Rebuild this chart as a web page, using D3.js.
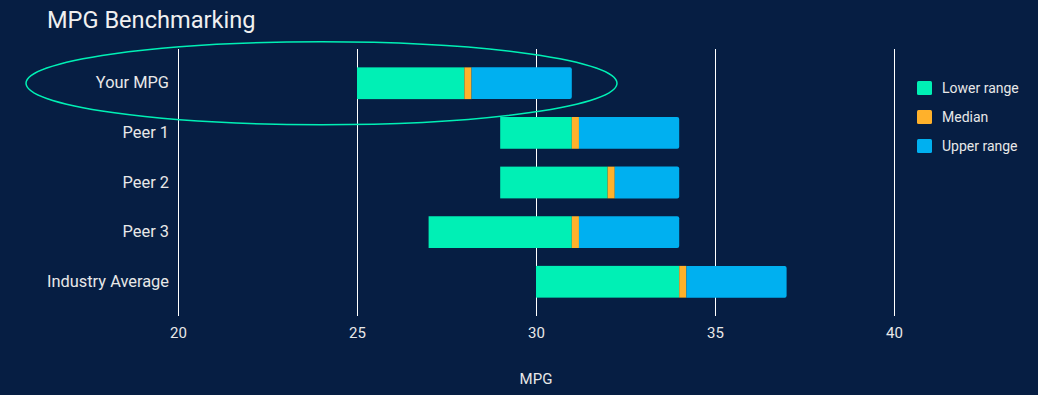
<!DOCTYPE html>
<html><head><meta charset="utf-8">
<script src="https://cdn.jsdelivr.net/npm/d3@7"></script>
<style>
html,body{margin:0;padding:0;background:#061e43;}
svg{display:block;font-family:Roboto,"Noto Sans",sans-serif;}
</style></head>
<body><svg id="c" width="1038" height="395"></svg>
<script>
const categories = ["Your MPG","Peer 1","Peer 2","Peer 3","Industry Average"];
const minValues = [25, 29, 29, 27, 30];
const medianValues = [28, 31, 32, 31, 34];
const maxValues = [31, 34, 34, 34, 37];
const medianWidth = 0.2;
const tickValues = [20, 25, 30, 35, 40];
const seriesNames = ["Lower range","Median","Upper range"];
const colors = ["#00f0b5","#ffb12b","#00b0f0"];

const svg = d3.select("#c");
const W = 1038, H = 395;
svg.append("rect").attr("width",W).attr("height",H).attr("fill","#061e43");

const x = d3.scaleLinear().domain([20,40]).range([178,894]);
const y = d3.scaleBand().domain(categories).range([49,316]).paddingInner(0.36).paddingOuter(0.37);

// gridlines
svg.append("g").selectAll("line").data(tickValues).join("line")
  .attr("x1",d=>Math.round(x(d))+0.5).attr("x2",d=>Math.round(x(d))+0.5).attr("y1",49).attr("y2",316)
  .attr("stroke","#ffffff").attr("stroke-width",1);

// x axis
const xa = svg.append("g").attr("transform","translate(0,316)")
  .call(d3.axisBottom(x).tickValues(tickValues).tickSize(0).tickPadding(11));
xa.select(".domain").remove();
xa.selectAll("text").attr("fill","#e8e8e8").attr("font-size",15).attr("font-family","Roboto,sans-serif");

// y axis labels
const ya = svg.append("g").attr("transform","translate(178,0)")
  .call(d3.axisLeft(y).tickSize(0).tickPadding(9));
ya.select(".domain").remove();
ya.selectAll("text").attr("fill","#e8e8e8").attr("font-size",16.4).attr("font-family","Roboto,sans-serif");

// bars
const rows = categories.map((c,i)=>({c, segs:[
  [minValues[i], medianValues[i]],
  [medianValues[i], medianValues[i]+medianWidth],
  [medianValues[i]+medianWidth, maxValues[i]]
]}));
const g = svg.append("g");
rows.forEach(r=>{
  r.segs.forEach((s,k)=>{
    if(k===2){
      const x0=x(s[0]), x1=x(s[1]), y0=y(r.c), h=y.bandwidth(), rr=2;
      g.append("path").attr("fill",colors[k])
        .attr("d",`M${x0},${y0}H${x1-rr}Q${x1},${y0} ${x1},${y0+rr}V${y0+h-rr}Q${x1},${y0+h} ${x1-rr},${y0+h}H${x0}Z`);
    } else {
      g.append("rect").attr("x",x(s[0])).attr("y",y(r.c))
        .attr("width",x(s[1])-x(s[0])).attr("height",y.bandwidth()).attr("fill",colors[k]);
    }
  });
});

// highlight ellipse
svg.append("ellipse").attr("cx",321.5).attr("cy",y(categories[0])+y.bandwidth()/2)
  .attr("rx",295.5).attr("ry",41.5).attr("fill","none").attr("stroke","#00f0b5").attr("stroke-width",1.5);

// title
svg.append("text").attr("x",47).attr("y",28).text("MPG Benchmarking")
  .attr("fill","#f0f0f0").attr("font-size",23.6);

// axis title
svg.append("text").attr("x",x(30)).attr("y",384).attr("text-anchor","middle").text("MPG")
  .attr("fill","#e8e8e8").attr("font-size",15);

// legend
const lg = svg.append("g").attr("transform","translate(917,81)");
seriesNames.forEach((n,i)=>{
  lg.append("rect").attr("x",0).attr("y",i*29).attr("width",15).attr("height",14).attr("rx",1.5).attr("fill",colors[i]);
  lg.append("text").attr("x",25).attr("y",i*29+7).attr("dy","0.35em").text(n)
    .attr("fill","#e8e8e8").attr("font-size",14);
});
</script></body></html>
